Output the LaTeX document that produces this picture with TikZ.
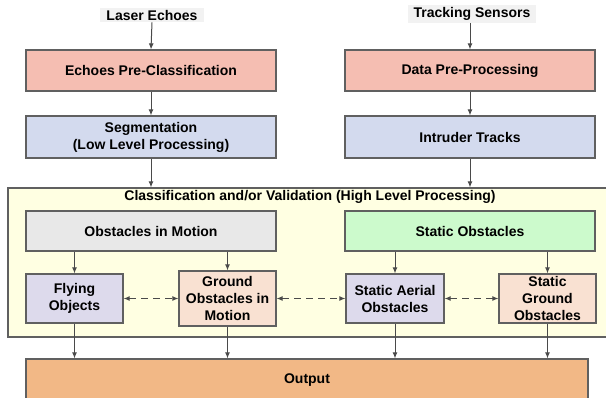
\documentclass[tikz,border=0pt]{standalone}
\usepackage{fontspec}
\setmainfont{Liberation Sans}
\usetikzlibrary{arrows.meta}
\definecolor{edgegray}{HTML}{606060}
\definecolor{arrowgray}{HTML}{4A4A4A}
\definecolor{salmonfill}{HTML}{F5BEB2}
\definecolor{bluefill}{HTML}{D3DAEE}
\definecolor{panelfill}{HTML}{FFFFE2}
\definecolor{grayfill}{HTML}{E8E8E8}
\definecolor{greenfill}{HTML}{CCFACC}
\definecolor{lilacfill}{HTML}{DDDAEC}
\definecolor{peachfill}{HTML}{F9E1D2}
\definecolor{outfill}{HTML}{F2B886}
\definecolor{labelfill}{HTML}{F2F2F2}
\tikzset{
  x=1pt, y=-1pt,
  every node/.style={font=\fontsize{14}{17}\selectfont\bfseries, text=black},
  procbox/.style={draw=edgegray, line width=1.2pt, rectangle, inner sep=0pt, align=center},
  inlabel/.style={fill=labelfill, inner xsep=6pt, inner ysep=2pt},
  flow/.style={draw=arrowgray, line width=1pt, -{Latex[length=6pt,width=5pt]}},
  link/.style={draw=arrowgray, line width=1pt, dash pattern=on 7pt off 5pt,
    {Latex[length=6pt,width=5pt]}-{Latex[length=6pt,width=5pt]}},
}
\begin{document}
\begin{tikzpicture}
\useasboundingbox (0,0) rectangle (606,398);

% high level processing panel
\node[procbox, fill=panelfill, minimum width=602pt, minimum height=149pt] (panel) at (309,262.5) {};
\node (paneltitle) at (310,197) {Classification and/or Validation (High Level Processing)};

% inputs
\node[inlabel] (laser) at (152,15) {Laser Echoes};
\node[inlabel] (sensors) at (472,14) {Tracking Sensors};

% low level chain
\node[procbox, fill=salmonfill, minimum width=250pt, minimum height=41pt] (epc) at (151,70.5) {Echoes Pre-Classification};
\node[procbox, fill=bluefill, minimum width=250pt, minimum height=42pt] (seg) at (151,137) {Segmentation\\(Low Level Processing)};
\node[procbox, fill=salmonfill, minimum width=250pt, minimum height=41pt] (dpp) at (470,70.5) {Data Pre-Processing};
\node[procbox, fill=bluefill, minimum width=250pt, minimum height=42pt] (tracks) at (470,137) {Intruder Tracks};

% classes
\node[procbox, fill=grayfill, minimum width=250pt, minimum height=40pt] (motion) at (151,231) {Obstacles in Motion};
\node[procbox, fill=greenfill, minimum width=250pt, minimum height=40pt] (static) at (470,231) {Static Obstacles};

\node[procbox, fill=lilacfill, minimum width=97pt, minimum height=49pt] (flying) at (74.5,298.5) {Flying\\Objects};
\node[procbox, fill=peachfill, minimum width=97pt, minimum height=55pt] (ground) at (227.5,298.5) {Ground\\Obstacles in\\Motion};
\node[procbox, fill=lilacfill, minimum width=98pt, minimum height=49pt] (aerial) at (395,298.5) {Static Aerial\\Obstacles};
\node[procbox, fill=peachfill, minimum width=97pt, minimum height=49pt] (sground) at (547.5,298.5) {Static\\Ground\\Obstacles};

% output
\node[procbox, fill=outfill, minimum width=562pt, minimum height=42pt] (output) at (307,380) {Output};

% connectors
\draw[flow] (laser.south) -- (epc.north);
\draw[flow] (epc) -- (seg);
\draw[flow] (seg.south) -- (seg.south |- panel.north);
\draw[flow] (sensors.south -| dpp.north) -- (dpp.north);
\draw[flow] (dpp) -- (tracks);
\draw[flow] (tracks.south) -- (tracks.south |- panel.north);

\draw[flow] (motion.south -| flying.north) -- (flying.north);
\draw[flow] (motion.south -| ground.north) -- (ground.north);
\draw[flow] (static.south -| aerial.north) -- (aerial.north);
\draw[flow] (static.south -| sground.north) -- (sground.north);

\draw[flow] (flying.south) -- (flying.south |- output.north);
\draw[flow] (ground.south) -- (ground.south |- output.north);
\draw[flow] (aerial.south) -- (aerial.south |- output.north);
\draw[flow] (sground.south) -- (sground.south |- output.north);

\draw[link] (flying.east) -- (ground.west);
\draw[link] (ground.east) -- (aerial.west);
\draw[link] (aerial.east) -- (sground.west);
\end{tikzpicture}
\end{document}
